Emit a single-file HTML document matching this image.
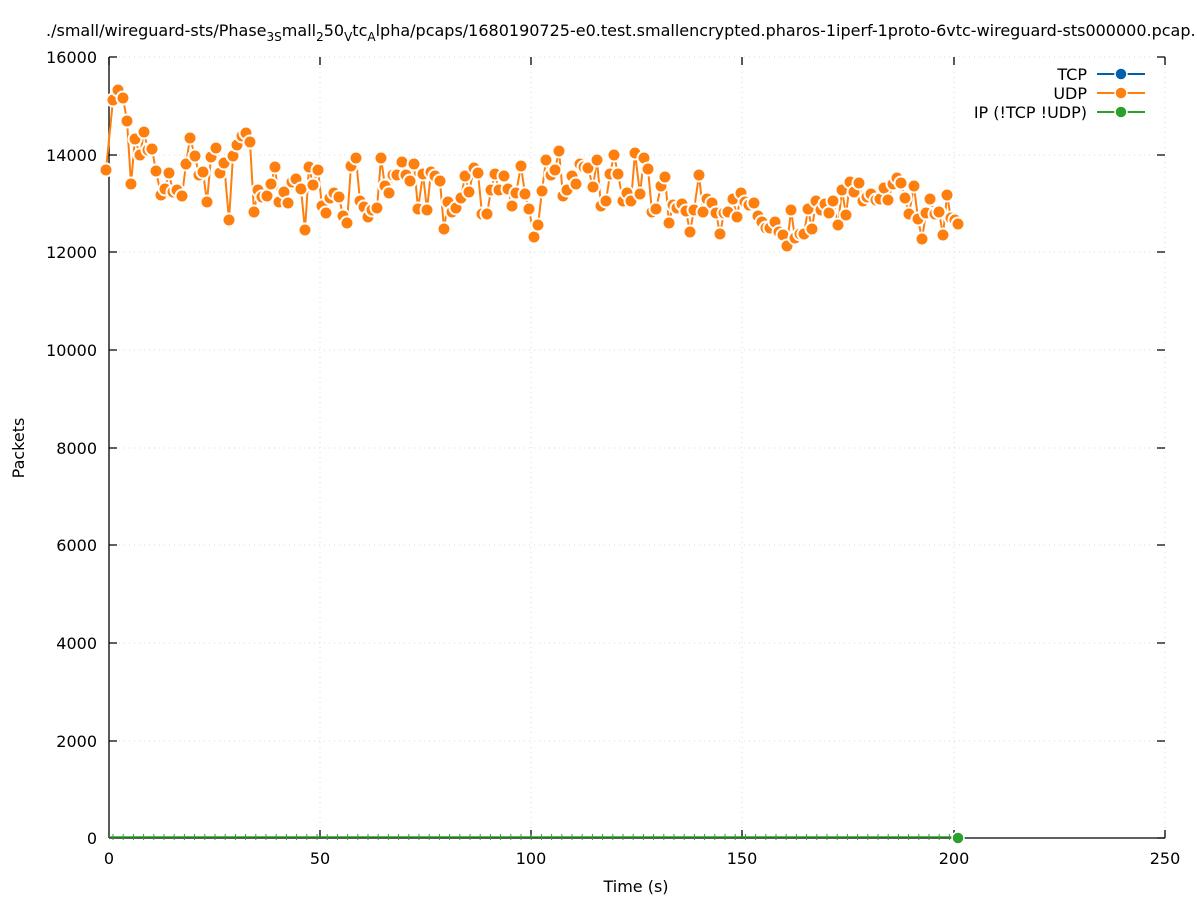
<!DOCTYPE html>
<html><head><meta charset="utf-8"><style>
html,body{margin:0;padding:0;background:#fff}
svg{display:block;font-family:"DejaVu Sans","Liberation Sans",sans-serif}
</style></head><body>
<svg id="s" width="1197" height="900" xmlns="http://www.w3.org/2000/svg">
<rect width="1197" height="900" fill="#fff"/>
<g stroke="#d8d8d8" stroke-width="1" stroke-dasharray="1,4">
<line x1="320" y1="57" x2="320" y2="838"/><line x1="531" y1="57" x2="531" y2="838"/><line x1="742" y1="57" x2="742" y2="838"/><line x1="954" y1="57" x2="954" y2="838"/><line x1="1165" y1="57" x2="1165" y2="838"/>
<line x1="109" y1="57" x2="1165" y2="57"/><line x1="109" y1="155" x2="1165" y2="155"/><line x1="109" y1="252" x2="1165" y2="252"/><line x1="109" y1="350" x2="1165" y2="350"/><line x1="109" y1="448" x2="1165" y2="448"/><line x1="109" y1="545" x2="1165" y2="545"/><line x1="109" y1="643" x2="1165" y2="643"/><line x1="109" y1="741" x2="1165" y2="741"/>
</g>
<g stroke="#000" stroke-width="1.3">
<line x1="109" y1="57" x2="109" y2="838"/><line x1="109" y1="838" x2="1165" y2="838"/>
<path d="M109 57h8M109 155h8M109 252h8M109 350h8M109 448h8M109 545h8M109 643h8M109 741h8M1165 57h-8M1165 155h-8M1165 252h-8M1165 350h-8M1165 448h-8M1165 545h-8M1165 643h-8M1165 741h-8M1165 838h-8M320 838v-8M531 838v-8M742 838v-8M954 838v-8M1165 838v-8M320 57v8M531 57v8M742 57v8M954 57v8M1165 57v8M109 57v8"/>
</g>
<g font-size="16" fill="#000" text-anchor="end">
<text x="97" y="63">16000</text><text x="97" y="161">14000</text><text x="97" y="258">12000</text><text x="97" y="356">10000</text><text x="97" y="454">8000</text><text x="97" y="551">6000</text><text x="97" y="649">4000</text><text x="97" y="747">2000</text><text x="97" y="844">0</text>
</g>
<g font-size="16" fill="#000" text-anchor="middle">
<text x="109" y="864">0</text><text x="320" y="864">50</text><text x="531" y="864">100</text><text x="742" y="864">150</text><text x="954" y="864">200</text><text x="1165" y="864">250</text>
<text x="636" y="892">Time (s)</text>
<text transform="translate(24,448) rotate(-90)">Packets</text>
</g>
<text x="46" y="36" font-size="16">./small/wireguard-sts/Phase<tspan font-size="12" dy="5">3S</tspan><tspan dy="-5">mall</tspan><tspan font-size="12" dy="5">2</tspan><tspan dy="-5">50</tspan><tspan font-size="12" dy="5">V</tspan><tspan dy="-5">tc</tspan><tspan font-size="12" dy="5">A</tspan><tspan dy="-5">lpha/pcaps/1680190725-e0.test.smallencrypted.pharos-1iperf-1proto-6vtc-wireguard-sts000000.pcap.</tspan></text>
<g id="green"></g>
<g id="udp"></g>
<g font-size="16" text-anchor="end">
<text x="1087" y="80">TCP</text><text x="1087" y="99">UDP</text><text x="1087" y="118">IP (!TCP  !UDP)</text>
<line x1="1097" y1="74" x2="1145" y2="74" stroke="#0060ad" stroke-width="2"/><circle cx="1121" cy="74" r="6" fill="#0060ad" stroke="#fff" stroke-width="1.5"/>
<line x1="1097" y1="93" x2="1145" y2="93" stroke="#ff7f0e" stroke-width="2"/><circle cx="1121" cy="93" r="6" fill="#ff7f0e" stroke="#fff" stroke-width="1.5"/>
<line x1="1097" y1="112" x2="1145" y2="112" stroke="#2ca02c" stroke-width="2"/><circle cx="1121" cy="112" r="6" fill="#2ca02c" stroke="#fff" stroke-width="1.5"/>
</g>
</svg>
<script>
var P=[[106,170],[113,100],[118,90],[123,98],[127,121],[131,184],[135,139],[140,155],[144,132],[148,150],[152,149],[156,171],[161,195],[165,189],[169,173],[173,192],[177,190],[182,196],[186,164],[190,138],[195,156],[199,175],[203,172],[207,202],[211,157],[216,148],[220,173],[224,163],[229,220],[233,156],[237,145],[242,136],[246,133],[250,142],[254,212],[258,190],[262,197],[267,196],[271,184],[275,167],[279,202],[284,192],[288,203],[292,182],[296,179],[301,189],[305,230],[309,167],[313,185],[318,170],[322,206],[326,213],[330,198],[334,193],[339,197],[343,216],[347,223],[351,166],[356,158],[360,201],[364,207],[368,217],[372,210],[377,208],[381,158],[385,186],[389,193],[393,175],[397,175],[402,162],[406,175],[410,181],[414,164],[418,209],[423,174],[427,210],[431,172],[435,176],[440,181],[444,229],[448,202],[452,212],[456,208],[461,198],[465,176],[469,192],[474,168],[478,173],[482,214],[487,214],[491,190],[495,174],[499,190],[504,176],[508,189],[512,206],[516,193],[521,166],[525,194],[529,209],[534,237],[538,225],[542,191],[546,160],[551,175],[555,170],[559,151],[563,196],[567,190],[572,176],[576,184],[580,164],[584,167],[588,168],[593,187],[597,160],[601,206],[606,201],[610,174],[614,155],[618,174],[623,201],[627,193],[631,201],[635,153],[640,194],[644,158],[648,169],[652,212],[656,209],[661,186],[665,177],[669,223],[673,205],[677,208],[682,204],[686,211],[690,232],[694,210],[699,175],[703,212],[707,199],[712,203],[716,213],[720,234],[724,213],[728,212],[733,199],[737,217],[741,193],[745,202],[749,205],[754,203],[758,216],[762,222],[766,228],[770,228],[775,222],[779,232],[783,235],[787,246],[791,210],[795,238],[800,234],[804,234],[808,209],[812,229],[816,201],[821,210],[825,204],[829,213],[833,201],[838,225],[842,190],[846,215],[850,182],[854,192],[859,183],[863,201],[867,197],[871,194],[876,200],[880,199],[884,188],[888,200],[893,184],[897,178],[901,183],[905,198],[909,214],[914,186],[918,219],[922,239],[926,213],[930,199],[935,214],[939,212],[943,235],[947,195],[951,218],[955,220],[958,224]];
var ns="http://www.w3.org/2000/svg",u=document.getElementById("udp"),g=document.getElementById("green");
function el(t,a,p){var e=document.createElementNS(ns,t);for(var k in a)e.setAttribute(k,a[k]);p.appendChild(e);return e;}
el("polyline",{points:P.map(function(p){return p.join(",")}).join(" "),fill:"none",stroke:"#ff7f0e","stroke-width":2},u);
P.forEach(function(p){el("circle",{cx:p[0],cy:p[1],r:6.5,fill:"#ff7f0e",stroke:"#fff","stroke-width":2},u);});
el("line",{x1:109,y1:837,x2:958,y2:837,stroke:"#2ca02c","stroke-width":1.5},g);
for(var x=113;x<958;x+=10.2)el("line",{x1:x,y1:834,x2:x,y2:840,stroke:"#2ca02c","stroke-width":1},g);
el("circle",{cx:958,cy:838,r:6,fill:"#2ca02c",stroke:"#fff","stroke-width":1.5},g);
</script>
</body></html>
